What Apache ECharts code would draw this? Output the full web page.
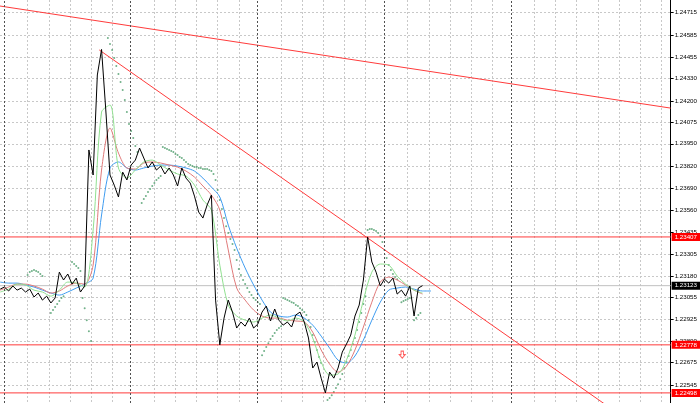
<!DOCTYPE html>
<html>
<head>
<meta charset="utf-8">
<script src="https://cdn.jsdelivr.net/npm/echarts@6/dist/echarts.min.js"></script>
<style>
  html, body { margin: 0; padding: 0; background: #fff; }
  #chart { width: 700px; height: 403px; }
</style>
</head>
<body>
<div id="chart"></div>
<script>
// price axis: visible range and tick labels (bottom -> top)
const yMin = 1.224391;
const yMax = 1.247881;
const tickLabels = ["1.22545", "1.22675", "1.22800", "1.22925", "1.23055", "1.23180", "1.23305", "1.23435", "1.23560",
  "1.23690", "1.23820", "1.23950", "1.24075", "1.24200", "1.24330", "1.24455", "1.24585", "1.24715"];

// time axis in bars (light grid skips the spots taken by period separators)
const xMin = 6.903;
const xMax = 324.5;
const gridBars = [20, 30, 40, 50, 60, 80, 90, 100, 110, 120, 140, 150, 160, 170, 180, 200,
  210, 220, 230, 240, 260, 270, 280, 290, 300, 310, 320];
const separatorBars = [8.9, 68.8, 128.8, 188.7, 248.8];

// close prices, one every 2 bars from bar 7
const priceStartBar = 7;
const priceStepBars = 2;
const closes = [
  1.23103, 1.23115, 1.23092, 1.23121, 1.23097, 1.23109, 1.23086, 1.23103, 1.23057, 1.23080,
  1.23039, 1.23062, 1.23022, 1.23051, 1.23202, 1.23156, 1.23191, 1.23132, 1.23167, 1.23086,
  1.23121, 1.23914, 1.23768, 1.24351, 1.24500, 1.24147, 1.23768, 1.23709, 1.23640, 1.23785,
  1.23739, 1.23826, 1.23855, 1.23925, 1.23867, 1.23809, 1.23844, 1.23797, 1.23820, 1.23774,
  1.23809, 1.23768, 1.23704, 1.23809, 1.23750, 1.23721, 1.23645, 1.23552, 1.23517, 1.23593,
  1.23651, 1.23039, 1.22778, 1.22934, 1.23039, 1.22969, 1.22876, 1.22911, 1.22887, 1.22934,
  1.22876, 1.22899, 1.22969, 1.23004, 1.22917, 1.22987, 1.22922, 1.22893, 1.22911, 1.22882,
  1.22952, 1.22969, 1.22911, 1.22818, 1.22643, 1.22678, 1.22584, 1.22498, 1.22619, 1.22584,
  1.22643, 1.22736, 1.22783, 1.22835, 1.22946, 1.23010, 1.23156, 1.23407, 1.23261, 1.23202,
  1.23121, 1.23161, 1.23138, 1.23167, 1.23074, 1.23097, 1.23062, 1.23121, 1.22946, 1.23109,
  1.23123
];

// moving averages, one every 4 bars from bar 7
const maStartBar = 7;
const maStepBars = 4;
const maFast = [
  1.23086, 1.23103, 1.23132, 1.23127, 1.23097, 1.23086, 1.23062, 1.23097, 1.23144, 1.23138,
  1.23115, 1.23447, 1.24135, 1.24176, 1.23809, 1.23750, 1.23797, 1.23844, 1.23855, 1.23826,
  1.23797, 1.23774, 1.23762, 1.23709, 1.23622, 1.23564, 1.23243, 1.23010, 1.22946, 1.22922,
  1.22911, 1.22934, 1.22952, 1.22934, 1.22917, 1.22934, 1.22911, 1.22818, 1.22678, 1.22602,
  1.22608, 1.22690, 1.22835, 1.23039, 1.23202, 1.23249, 1.23243, 1.23179, 1.23132, 1.23097,
  1.23080
];
const maMid = [
  1.23097, 1.23115, 1.23132, 1.23132, 1.23121, 1.23103, 1.23080, 1.23092, 1.23121, 1.23138,
  1.23132, 1.23243, 1.23797, 1.24042, 1.23896, 1.23809, 1.23803, 1.23838, 1.23844, 1.23838,
  1.23826, 1.23814, 1.23791, 1.23756, 1.23704, 1.23651, 1.23564, 1.23331, 1.23109, 1.23039,
  1.22981, 1.22946, 1.22934, 1.22934, 1.22922, 1.22917, 1.22911, 1.22852, 1.22748, 1.22666,
  1.22619, 1.22654, 1.22748, 1.22882, 1.23027, 1.23144, 1.23173, 1.23156, 1.23127, 1.23097,
  1.23074
];
const maSlow = [
  1.23144, 1.23138, 1.23138, 1.23127, 1.23115, 1.23097, 1.23080, 1.23068, 1.23086, 1.23109,
  1.23132, 1.23167, 1.23535, 1.23809, 1.23844, 1.23809, 1.23797, 1.23809, 1.23820, 1.23826,
  1.23826, 1.23820, 1.23809, 1.23791, 1.23750, 1.23698, 1.23640, 1.23476, 1.23342, 1.23226,
  1.23127, 1.23039, 1.22969, 1.22946, 1.22940, 1.22952, 1.22934, 1.22893, 1.22829, 1.22759,
  1.22689, 1.22672, 1.22713, 1.22806, 1.22922, 1.23027, 1.23097, 1.23109, 1.23115, 1.23103,
  1.23092, 1.23092
];

// parabolic SAR runs: first bar + one value per bar
const sarRuns = [
  { start: 20, values: [1.23185, 1.23202, 1.23208, 1.23214, 1.23208, 1.23202, 1.23191, 1.23179] },
  { start: 31, values: [1.22963, 1.22981, 1.22998, 1.23016, 1.23033, 1.23051, 1.23062] },
  { start: 41, values: [1.23261, 1.23249, 1.23237, 1.23226, 1.23208] },
  { start: 46, values: [1.23051, 1.22992, 1.22922, 1.22858, 1.22800] },
  { start: 58, values: [1.24567, 1.24532, 1.24497, 1.24450, 1.24403, 1.24357, 1.24310, 1.24263,
    1.24205, 1.24135, 1.24065, 1.24024, 1.23984, 1.23937, 1.23902] },
  { start: 74, values: [1.23605, 1.23628, 1.23645, 1.23669, 1.23686, 1.23704, 1.23721, 1.23739,
    1.23750, 1.23762] },
  { start: 84, values: [1.23931, 1.23925, 1.23919, 1.23914, 1.23908, 1.23902, 1.23890, 1.23884,
    1.23873, 1.23867, 1.23855, 1.23844, 1.23832, 1.23826, 1.23820, 1.23814, 1.23814, 1.23809,
    1.23809, 1.23803, 1.23803, 1.23803, 1.23797, 1.23791, 1.23774, 1.23739, 1.23680, 1.23622,
    1.23570, 1.23517, 1.23470, 1.23430, 1.23395, 1.23366, 1.23331, 1.23272, 1.23220, 1.23185,
    1.23156, 1.23132, 1.23109, 1.23086, 1.23068, 1.23051, 1.23039, 1.23027, 1.23016] },
  { start: 131, values: [1.22718, 1.22742, 1.22765, 1.22788, 1.22812, 1.22829, 1.22847, 1.22865,
    1.22876, 1.22887] },
  { start: 141, values: [1.23051, 1.23045, 1.23039, 1.23033, 1.23027, 1.23022, 1.23010, 1.23004,
    1.22992, 1.22981, 1.22969, 1.22952, 1.22922, 1.22882, 1.22835, 1.22794, 1.22748, 1.22707, 1.22672] },
  { start: 162, values: [1.22456, 1.22468, 1.22485, 1.22503, 1.22526, 1.22549, 1.22578, 1.22608,
    1.22643, 1.22678, 1.22713, 1.22748, 1.22783, 1.22818, 1.22865, 1.22911, 1.22963, 1.23016, 1.23062] },
  { start: 181, values: [1.23447, 1.23453, 1.23453, 1.23447, 1.23441, 1.23430, 1.23412, 1.23377,
    1.23331, 1.23284, 1.23243, 1.23214, 1.23191, 1.23173, 1.23161] },
  { start: 197, values: [1.23027, 1.23033, 1.23039, 1.23045, 1.23051] },
  { start: 203, values: [1.22922, 1.22934, 1.22952, 1.22963] }
];

// drawn objects
const trendTop = [[6.9, 1.24753], [324.5, 1.24158]];
const trendDown = [[53.9, 1.24497], [309.5, 1.22293]];
const redLevels = [1.23407, 1.22778, 1.22498];
const bidPrice = 1.23123;
const arrowMark = [197.4, 1.22721];

const RED = "#ff3b3b";

let tickValues = tickLabels.map(Number);
let pricePts = closes.map((v, i) => [priceStartBar + i * priceStepBars, v]);
let maPts = (arr) => arr.map((v, i) => [maStartBar + i * maStepBars, v]);
let sarPts = [];
sarRuns.forEach((r) => r.values.forEach((v, i) => sarPts.push([r.start + i, v])));

// horizontal level drawn as a flat line with a price box at its right end
let levelSeries = (name, v, lineColor, boxColor) => ({
  name: name,
  type: "line",
  data: [[xMin, v], [xMax, v]],
  symbol: "none",
  silent: true,
  lineStyle: { color: lineColor, width: 1, type: "solid" },
  endLabel: {
    show: true,
    distance: 1,
    formatter: () => v.toFixed(5),
    backgroundColor: boxColor,
    color: "#fff",
    fontSize: 6.2,
    fontFamily: "Liberation Sans",
    padding: [1, 8, 1, 3],
  },
});

let option = {
  animation: false,
  grid: { left: 0, right: 28.5, top: 0, bottom: 0 },
  xAxis: {
    type: "value",
    min: xMin,
    max: xMax,
    axisLine: { show: false },
    axisTick: { show: false, customValues: gridBars },
    axisLabel: { show: false, customValues: gridBars },
    splitLine: { show: true, lineStyle: { color: "#c8c8c8", type: [2, 2] } },
  },
  yAxis: {
    type: "value",
    position: "right",
    min: yMin,
    max: yMax,
    axisLine: { show: true, lineStyle: { color: "#000", width: 1 } },
    axisTick: { show: true, length: 3, lineStyle: { color: "#000" }, customValues: tickValues },
    axisLabel: {
      color: "#000",
      fontSize: 6.2,
      fontFamily: "Liberation Sans",
      margin: 4,
      customValues: tickValues,
      formatter: (v) => v.toFixed(5),
    },
    splitLine: { show: true, lineStyle: { color: "#c8c8c8", type: [2, 2] } },
  },
  series: [
    {
      // period separators
      name: "sep",
      type: "line",
      data: [],
      markLine: {
        silent: true,
        precision: 5,
        symbol: ["none", "none"],
        label: { show: false },
        lineStyle: { color: "#505050", type: [2, 2], width: 1 },
        data: separatorBars.map((b) => ({ xAxis: b })),
      },
    },
    levelSeries("bid", bidPrice, "#c0c0c0", "#000"),
    ...redLevels.map((v, i) => levelSeries("level" + i, v, RED, "#ff0000")),
    { name: "trend1", type: "line", data: trendTop, symbol: "none", lineStyle: { color: RED, width: 1 } },
    { name: "trend2", type: "line", data: trendDown, symbol: "none", lineStyle: { color: RED, width: 1 } },
    { name: "MA slow", type: "line", data: maPts(maSlow), symbol: "none", smooth: 0.3, lineStyle: { color: "#3f9cf0", width: 1 } },
    { name: "MA mid", type: "line", data: maPts(maMid), symbol: "none", smooth: 0.3, lineStyle: { color: "#e07a7a", width: 1 } },
    { name: "MA fast", type: "line", data: maPts(maFast), symbol: "none", smooth: 0.3, lineStyle: { color: "#90e090", width: 1 } },
    { name: "close", type: "line", data: pricePts, symbol: "none", lineStyle: { color: "#000", width: 1 } },
    {
      name: "SAR",
      type: "scatter",
      data: sarPts,
      symbol: "circle",
      symbolSize: 2,
      itemStyle: { color: "#4e9e6c" },
    },
    {
      name: "arrow",
      type: "scatter",
      data: [arrowMark],
      symbol: "path://M3 0 L7 0 L7 5 L10 5 L5 10 L0 5 L3 5 Z",
      symbolSize: [6, 7],
      itemStyle: { color: "rgba(0,0,0,0)", borderColor: RED, borderWidth: 1 },
    },
  ],
};

let myChart = echarts.init(document.getElementById("chart"));
myChart.setOption(option);
</script>
</body>
</html>
